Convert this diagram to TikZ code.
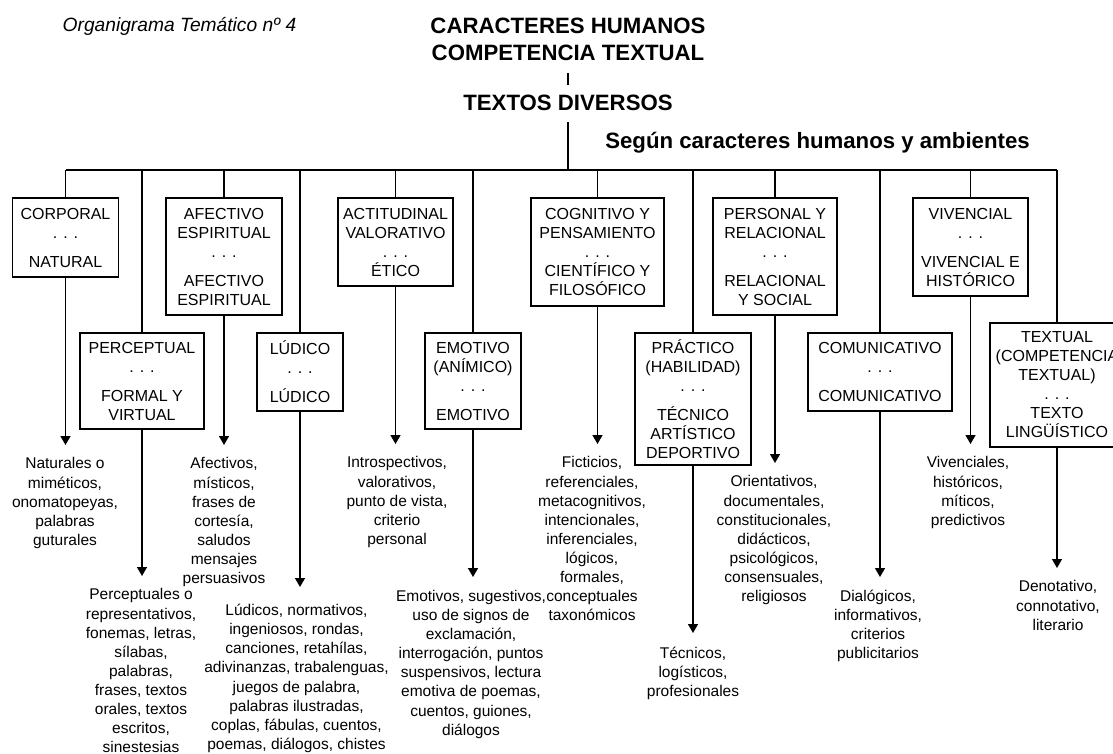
\documentclass[tikz,border=0pt]{standalone}
\usepackage{fontspec}
\setmainfont{Liberation Sans}
\usetikzlibrary{arrows.meta}

\tikzset{
    linea/.style={line width=1.4pt},
    flecha/.style={line width=1.4pt, -{Triangle[width=10pt,length=9pt]}},
    caja/.style={draw, line width=1.4pt, align=center, inner sep=0pt,
        font=\fontsize{16}{19}\selectfont},
    texto/.style={anchor=north, align=center, inner xsep=0pt, inner ysep=12.5pt,
        font=\fontsize{15.5}{19.1}\selectfont},
    titulo/.style={anchor=base, inner sep=0pt, font=\fontsize{22.2}{24}\selectfont\bfseries},
}

\begin{document}
\begin{tikzpicture}[x=1pt, y=-1pt]
    \useasboundingbox (0,0) rectangle (1113,753);
    \clip (0,0) rectangle (1113,753);

    \node[anchor=base west, inner sep=0pt, font=\fontsize{19.2}{22}\selectfont\itshape] (organigrama)
        at (62.5,31.5) {Organigrama Temático nº 4};
    \node[titulo] (caracteres) at (568,33.3) {CARACTERES HUMANOS};
    \node[titulo] (competencia) at (568,60.5) {COMPETENCIA TEXTUAL};
    \node[titulo] (textos) at (568,110.5) {TEXTOS DIVERSOS};
    \node[titulo] (segun) at (817.5,148.3) {Según caracteres humanos y ambientes};

    \draw[linea, shorten <=12.5pt, shorten >=10pt] (competencia.south) -- (textos.north);
    \coordinate (barra) at (568,170);
    \draw[linea, shorten <=11.5pt] (textos.south) -- (barra);

    \node[caja, minimum width=105.6pt, minimum height=79pt] (corporal) at (65.5,237.5)
        {CORPORAL\\. . .\\[10pt]NATURAL};
    \node[caja, minimum width=124pt, minimum height=96pt] (perceptual) at (142,381)
        {PERCEPTUAL\\. . .\\[10pt]FORMAL Y\\VIRTUAL};
    \node[caja, minimum width=116pt, minimum height=117pt] (afectivo) at (224,256.5)
        {AFECTIVO\\ESPIRITUAL\\. . .\\[10pt]AFECTIVO\\ESPIRITUAL};
    \node[caja, minimum width=86pt, minimum height=78pt] (ludico) at (300,372)
        {LÚDICO\\. . .\\[10pt]LÚDICO};
    \node[caja, minimum width=115pt, minimum height=88pt] (actitudinal) at (395.5,242)
        {ACTITUDINAL\\VALORATIVO\\. . .\\ÉTICO};
    \node[caja, minimum width=96pt, minimum height=96pt] (emotivo) at (473,381)
        {EMOTIVO\\(ANÍMICO)\\. . .\\[10pt]EMOTIVO};
    \node[caja, minimum width=133pt, minimum height=108pt] (cognitivo) at (597.5,252)
        {COGNITIVO Y\\PENSAMIENTO\\. . .\\CIENTÍFICO Y\\FILOSÓFICO};
    \node[caja, minimum width=116pt, minimum height=132pt] (practico) at (693,399)
        {PRÁCTICO\\(HABILIDAD)\\. . .\\[10pt]TÉCNICO\\ARTÍSTICO\\DEPORTIVO};
    \node[caja, minimum width=124pt, minimum height=117pt] (personal) at (775,256.5)
        {PERSONAL Y\\RELACIONAL\\. . .\\[10pt]RELACIONAL\\Y SOCIAL};
    \node[caja, minimum width=144pt, minimum height=78pt] (comunicativo) at (880,372)
        {COMUNICATIVO\\. . .\\[10pt]COMUNICATIVO};
    \node[caja, minimum width=115pt, minimum height=98pt] (vivencial) at (970.5,247)
        {VIVENCIAL\\. . .\\[10pt]VIVENCIAL E\\HISTÓRICO};
    \node[caja, minimum width=134pt, minimum height=124pt] (textual) at (1057,385)
        {TEXTUAL\\(COMPETENCIA\\TEXTUAL)\\. . .\\TEXTO\\LINGÜÍSTICO};

    \draw[linea] (corporal |- barra) -- (textual |- barra);
    \foreach \rama in {corporal,perceptual,afectivo,ludico,actitudinal,emotivo,
        cognitivo,practico,personal,comunicativo,vivencial,textual}
        \draw[linea] (\rama) -- (\rama |- barra);

    \node[texto] (t-corporal) at (65,445)
        {Naturales o\\miméticos,\\onomatopeyas,\\palabras\\guturales};
    \node[texto] (t-perceptual) at (141,576)
        {Perceptuales o\\representativos,\\fonemas, letras,\\sílabas,\\palabras,\\frases, textos\\orales, textos\\escritos,\\sinestesias};
    \node[texto] (t-afectivo) at (224,445)
        {Afectivos,\\místicos,\\frases de\\cortesía,\\saludos\\mensajes\\persuasivos};
    \node[texto, inner ysep=17pt] (t-ludico) at (296.5,587)
        {Lúdicos, normativos,\\ingeniosos, rondas,\\canciones, retahílas,\\adivinanzas, trabalenguas,\\juegos de palabra,\\palabras ilustradas,\\coplas, fábulas, cuentos,\\poemas, diálogos, chistes};
    \node[texto] (t-actitudinal) at (397,444)
        {Introspectivos,\\valorativos,\\punto de vista,\\criterio\\personal};
    \node[texto, inner ysep=13pt] (t-emotivo) at (471,577)
        {Emotivos, sugestivos,\\uso de signos de\\exclamación,\\interrogación, puntos\\suspensivos, lectura\\emotiva de poemas,\\cuentos, guiones,\\diálogos};
    \node[texto] (t-cognitivo) at (592,444)
        {Ficticios,\\referenciales,\\metacognitivos,\\intencionales,\\inferenciales,\\lógicos,\\formales,\\conceptuales\\taxonómicos};
    \node[texto, inner ysep=14pt] (t-practico) at (693,633)
        {Técnicos,\\logísticos,\\profesionales};
    \node[texto] (t-personal) at (774,463)
        {Orientativos,\\documentales,\\constitucionales,\\didácticos,\\psicológicos,\\consensuales,\\religiosos};
    \node[texto] (t-comunicativo) at (878,577)
        {Dialógicos,\\informativos,\\criterios\\publicitarios};
    \node[texto] (t-vivencial) at (968,444)
        {Vivenciales,\\históricos,\\míticos,\\predictivos};
    \node[texto] (t-textual) at (1058,568)
        {Denotativo,\\connotativo,\\literario};

    \foreach \rama in {corporal,perceptual,afectivo,ludico,actitudinal,emotivo,
        cognitivo,practico,personal,comunicativo,vivencial,textual}
        \draw[flecha] (\rama) -- (\rama |- t-\rama.north);
\end{tikzpicture}
\end{document}
